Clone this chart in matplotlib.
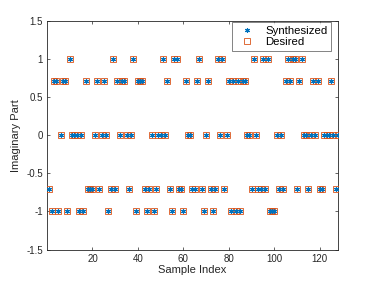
import numpy as np
import matplotlib
matplotlib.use("Agg")
import matplotlib.pyplot as plt

plt.rcParams['font.family'] = ['Liberation Sans', 'DejaVu Sans']

h = np.sqrt(0.5)
# imaginary part per sample (index 1..128)
imag_desired = [
    -h, -1, h, h, -1, 0, h, h, -1, 1,
    0, 0, 0, -1, 0, -1, h, -h, -h, -h,
    0, h, -h, 0, h, 0, -1, -h, 1, -h,
    h, 0, h, h, 0, -h, 0, 1, -1, h,
    h, h, -h, -1, -h, 0, -1, -h, 0, 0,
    1, 0, h, -h, -1, 1, 1, -h, -h, -1,
    h, 0, 0, -h, -h, h, 1, -h, -1, 0,
    h, -h, -1, -h, 1, 0, 1, -h, 0, h,
    -1, h, -1, h, -1, h, h, 0, 0, -h,
    1, 0, -h, -h, 1, -h, 1, -1, -1, -1,
    0, -h, 0, -h, h, 1, h, 1, 1, -h,
    h, 1, 0, 0, -h, 0, h, 0, h, -h,
    -h, 0, 0, 0, h, 0, -h, 0,
]
imag_synth = list(imag_desired)
sample_index = np.arange(1, len(imag_desired) + 1)

yticks = [-1.5, -1, -0.5, 0, 0.5, 1, 1.5]
yticklabels = ['-1.5', '-1', '-0.5', '0', '0.5', '1', '1.5']
xticks = [20, 40, 60, 80, 100, 120]

blue = (0.0, 0.447, 0.741)
orange = (0.850, 0.325, 0.098)
axcol = (0.15, 0.15, 0.15)

fig = plt.figure(figsize=(3.74, 2.83), dpi=100)
ax = fig.add_axes([0.1257, 0.118, 0.778, 0.808])

ax.plot(sample_index, imag_synth, linestyle='none', marker=(6, 2, 0), color=blue,
        markersize=3.5, markeredgewidth=0.8, label='Synthesized', zorder=4)
ax.plot(sample_index, imag_desired, linestyle='none', marker='s',
        markerfacecolor='none', markeredgecolor=orange, markersize=4.5,
        markeredgewidth=0.6, label='Desired', zorder=3)

ax.set_xlim(0, 128)
ax.set_ylim(-1.5, 1.5)
ax.set_xticks(xticks)
ax.set_yticks(yticks)
ax.set_yticklabels(yticklabels)
ax.tick_params(direction='in', length=2.5, width=0.5, labelsize=7,
               colors=axcol, top=True, right=True, pad=3)
for sp in ax.spines.values():
    sp.set_linewidth(0.6)
    sp.set_color(axcol)

ax.set_xlabel('Sample Index', fontsize=8, color=axcol, labelpad=1)
ax.set_ylabel('Imaginary Part', fontsize=8, color=axcol, labelpad=4)

leg = ax.legend(loc='upper right', bbox_to_anchor=(0.976, 0.995),
                fontsize=8.2, frameon=True, fancybox=False,
                edgecolor=axcol, borderpad=0.3, handletextpad=0.6,
                labelspacing=0.15, handlelength=2.0, borderaxespad=0.0)
leg.get_frame().set_linewidth(0.5)

fig.savefig('out.png', dpi=100)
